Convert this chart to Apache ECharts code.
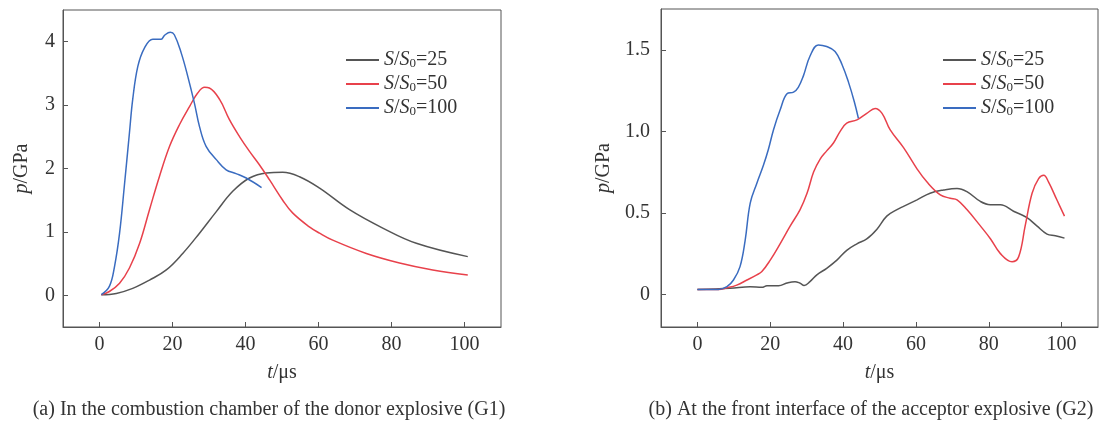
<!DOCTYPE html>
<html>
<head>
<meta charset="utf-8">
<script src="https://cdn.jsdelivr.net/npm/echarts@6/dist/echarts.min.js"></script>
<style>
  html, body { margin: 0; padding: 0; background: #fff; }
  #chart { width: 1118px; height: 423px; }
</style>
</head>
<body>
<div id="chart"></div>
<script>
// series names
const seriesNames = ['S/S0=25', 'S/S0=50', 'S/S0=100']

// tick labels
const xTicks = [0, 20, 40, 60, 80, 100]
const yTicksG1 = [0, 1, 2, 3, 4]
const yTicksG2 = [0, 0.5, 1.0, 1.5]

// (a) G1, [t/us, p/GPa]
const g1_25 = [
  [0.5, 0.01], [4.6, 0.03], [9.1, 0.11], [13.7, 0.24], [18.3, 0.4], [22.8, 0.66],
  [27.4, 0.98], [32, 1.32], [36.5, 1.64], [41.1, 1.85], [45.7, 1.93], [50.2, 1.94],
  [54.8, 1.87], [60.3, 1.69], [68.5, 1.35], [77.6, 1.06], [86.8, 0.82], [100.9, 0.61]
]
const g1_50 = [
  [0.5, 0.01], [2.7, 0.06], [5.5, 0.19], [8.2, 0.43], [11, 0.82], [13.7, 1.35],
  [16.4, 1.87], [19.2, 2.35], [21.9, 2.69], [24.7, 2.98], [26.9, 3.19], [28.8, 3.28],
  [30.1, 3.27], [32.9, 3.09], [35.6, 2.77], [38.4, 2.5], [41.1, 2.27], [43.8, 2.06],
  [46.6, 1.82], [50.2, 1.5], [52.9, 1.3], [57.5, 1.08], [60.3, 0.98], [63.9, 0.87],
  [73.1, 0.66], [82.2, 0.51], [91.3, 0.4], [100.9, 0.32]
]
const g1_100 = [
  [0.5, 0.01], [2.7, 0.14], [4.1, 0.45], [5.5, 0.98], [6.8, 1.72], [8.2, 2.56],
  [9.1, 3.09], [10.5, 3.61], [12.3, 3.9], [14.6, 4.04], [16.9, 4.04], [17.8, 4.1],
  [19.4, 4.15], [20.5, 4.11], [22.4, 3.82], [24.2, 3.45], [26, 3.03], [27.4, 2.66],
  [29.2, 2.35], [32, 2.14], [34.7, 1.98], [37.4, 1.92], [40.2, 1.85], [44.4, 1.7]
]

// (b) G2, [t/us, p/GPa]
const g2_25 = [
  [0, 0.03], [9, 0.037], [14.5, 0.047], [17.7, 0.043], [19.1, 0.053], [22.3, 0.053],
  [24.6, 0.07], [26.8, 0.078], [28.2, 0.068], [29.3, 0.055], [30.9, 0.078], [32.8, 0.12],
  [35.5, 0.16], [38.3, 0.21], [41, 0.27], [43.8, 0.31], [46.5, 0.34], [49.3, 0.4],
  [52, 0.48], [54.8, 0.52], [56.6, 0.54], [60.3, 0.58], [63.9, 0.62], [67.6, 0.64],
  [71.3, 0.65], [74, 0.63], [77.7, 0.57], [80.4, 0.55], [83.2, 0.55], [86.8, 0.51],
  [90.5, 0.47], [93.2, 0.42], [96, 0.37], [98.3, 0.36], [100.8, 0.345]
]
const g2_50 = [
  [0, 0.03], [5.8, 0.03], [8.1, 0.04], [10.8, 0.057], [13.6, 0.088], [16.3, 0.12],
  [17.7, 0.14], [20, 0.21], [22.7, 0.31], [25.5, 0.42], [28.2, 0.52], [30.1, 0.62],
  [31.9, 0.75], [33.7, 0.83], [35.5, 0.88], [37.4, 0.93], [39.2, 1.0], [41, 1.05],
  [43.8, 1.07], [46.5, 1.11], [48.8, 1.14], [50.7, 1.11], [52.9, 1.01], [56.6, 0.9],
  [60.3, 0.77], [63, 0.69], [66.7, 0.61], [69.4, 0.59], [71.3, 0.58], [74, 0.52],
  [77.7, 0.42], [80.5, 0.34], [83.2, 0.25], [86.4, 0.2], [88.2, 0.23], [90, 0.42],
  [91.9, 0.62], [93.7, 0.71], [95.1, 0.73], [96.4, 0.69], [98.7, 0.58], [100.8, 0.48]
]
const g2_100 = [
  [0, 0.03], [5.8, 0.03], [8.1, 0.047], [9.9, 0.088], [11.7, 0.17], [13.1, 0.33],
  [14.5, 0.56], [16.3, 0.68], [18.1, 0.79], [19.5, 0.89], [20.9, 1.01], [22.7, 1.13],
  [24.6, 1.23], [26.4, 1.24], [27.7, 1.27], [29.1, 1.34], [30.9, 1.46], [33.2, 1.53],
  [35.5, 1.52], [37.8, 1.49], [39.7, 1.41], [41.5, 1.3], [43.1, 1.18], [44.2, 1.08]
]

const colors = ['#555555', '#e8414b', '#3a6cc0']
const font = '"Liberation Serif", "Times New Roman", serif'
const txt = '#333'
const fs = 20

const chart = echarts.init(document.getElementById('chart'))

const legendRich = {
  i: { fontStyle: 'italic', fontFamily: font, fontSize: fs, color: txt },
  n: { fontFamily: font, fontSize: fs, color: txt },
  sub: { fontFamily: font, fontSize: 13, color: txt, verticalAlign: 'bottom', lineHeight: 3 }
}
const legendFormatter = name => {
  const v = name.split('=')[1]
  return `{i|S}{n|/}{i|S}{sub|0}{n|=${v}}`
}

const makeX = gridIndex => ({
  type: 'value',
  gridIndex,
  min: -10,
  max: 110,
  name: '{i|t}/μs',
  nameLocation: 'middle',
  nameGap: 36,
  nameTextStyle: {
    fontFamily: font, fontSize: fs, color: txt,
    rich: { i: { fontStyle: 'italic', fontFamily: font, fontSize: fs, color: txt } }
  },
  axisLine: { show: true, onZero: false, lineStyle: { color: '#555', width: 1 } },
  axisTick: { show: true, inside: true, length: 5, customValues: xTicks, lineStyle: { color: '#555' } },
  axisLabel: { customValues: xTicks, margin: 8, fontFamily: font, fontSize: fs, color: txt },
  splitLine: { show: false }
})

const makeY = (gridIndex, min, max, ticks, nameGap, margin, fmt) => ({
  type: 'value',
  gridIndex,
  min,
  max,
  name: '{i|p}/GPa',
  nameLocation: 'middle',
  nameGap,
  nameTextStyle: {
    fontFamily: font, fontSize: fs, color: txt,
    rich: { i: { fontStyle: 'italic', fontFamily: font, fontSize: fs, color: txt } }
  },
  axisLine: { show: true, onZero: false, lineStyle: { color: '#555', width: 1 } },
  axisTick: { show: true, inside: true, length: 5, customValues: ticks, lineStyle: { color: '#555' } },
  axisLabel: { customValues: ticks, margin, fontFamily: font, fontSize: fs, color: txt, formatter: fmt },
  splitLine: { show: false }
})

const makeLine = (name, data, idx, colorIdx) => ({
  name,
  type: 'line',
  xAxisIndex: idx,
  yAxisIndex: idx,
  data,
  smooth: 0.4,
  symbol: 'none',
  lineStyle: { color: colors[colorIdx], width: 1.5 },
  itemStyle: { color: colors[colorIdx] }
})

const makeLegend = left => ({
  left, top: 45, orient: 'vertical', itemGap: 4,
  icon: 'rect', itemWidth: 33, itemHeight: 2,
  data: seriesNames,
  formatter: legendFormatter,
  textStyle: { fontFamily: font, fontSize: fs, color: txt, rich: legendRich }
})

const option = {
  animation: false,
  grid: [
    { left: 63, top: 10, width: 438, height: 317, show: true, borderColor: '#555', borderWidth: 1 },
    { left: 661, top: 9, width: 437, height: 318, show: true, borderColor: '#555', borderWidth: 1 }
  ],
  xAxis: [makeX(0), makeX(1)],
  yAxis: [
    makeY(0, -0.5, 4.5, yTicksG1, 31, 8, v => String(v)),
    makeY(1, -0.2, 1.75, yTicksG2, 47, 11, v => (v === 0 ? '0' : v.toFixed(1)))
  ],
  legend: [makeLegend(341), makeLegend(938)],
  graphic: [
    {
      type: 'text', x: 269, y: 410,
      style: {
        text: '(a) In the combustion chamber of the donor explosive (G1)',
        font: fs + 'px ' + font, fill: txt, align: 'center', verticalAlign: 'middle'
      }
    },
    {
      type: 'text', x: 871, y: 410,
      style: {
        text: '(b) At the front interface of the acceptor explosive (G2)',
        font: fs + 'px ' + font, fill: txt, align: 'center', verticalAlign: 'middle'
      }
    }
  ],
  series: [
    makeLine(seriesNames[0], g1_25, 0, 0),
    makeLine(seriesNames[1], g1_50, 0, 1),
    makeLine(seriesNames[2], g1_100, 0, 2),
    makeLine(seriesNames[0], g2_25, 1, 0),
    makeLine(seriesNames[1], g2_50, 1, 1),
    makeLine(seriesNames[2], g2_100, 1, 2)
  ]
}

chart.setOption(option)
</script>
</body>
</html>
